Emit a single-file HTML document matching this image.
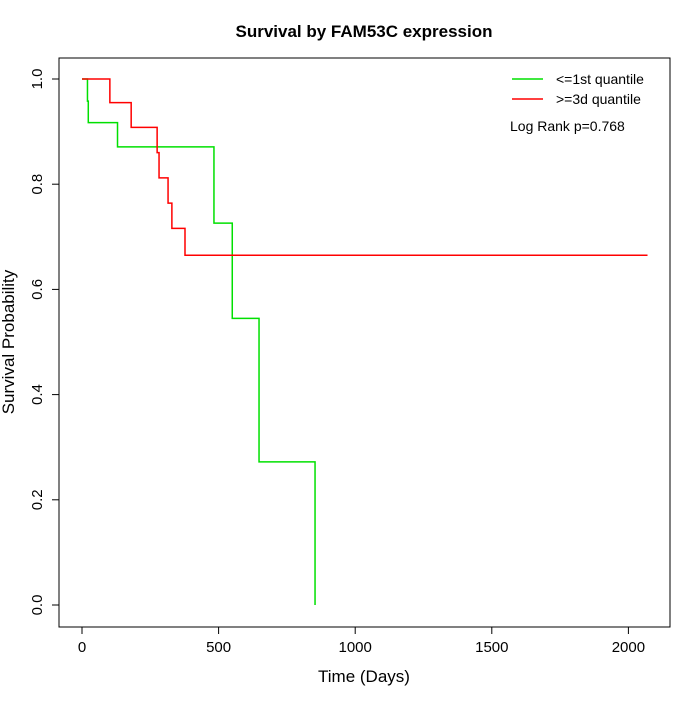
<!DOCTYPE html>
<html><head><meta charset="utf-8"><style>
body{margin:0;background:#fff}
svg text{font-family:"Liberation Sans",sans-serif;}
</style></head><body>
<svg id="chart" width="700" height="700" xmlns="http://www.w3.org/2000/svg">
<rect width="700" height="700" fill="#fff"/>
<text x="364" y="37" text-anchor="middle" font-size="17" font-weight="bold">Survival by FAM53C expression</text>
<rect x="59" y="58" width="611" height="569" fill="none" stroke="#000"/>
<g id="xaxis"></g>
<g id="yaxis"></g>
<text x="364" y="682" text-anchor="middle" font-size="17">Time (Days)</text>
<text transform="translate(14,342) rotate(-90)" text-anchor="middle" font-size="17">Survival Probability</text>
<g id="series"></g>
<g>
<line x1="512" y1="79" x2="543" y2="79" stroke="#00e000" stroke-width="1.5"/>
<text x="556" y="84" font-size="14">&lt;=1st quantile</text>
<line x1="512" y1="99" x2="543" y2="99" stroke="#f00" stroke-width="1.5"/>
<text x="556" y="104" font-size="14">&gt;=3d quantile</text>
<text x="510" y="131" font-size="14">Log Rank p=0.768</text>
</g>
</svg>
<script>
const xTicks=[0,500,1000,1500,2000];
const yTicks=[0,0.2,0.4,0.6,0.8,1.0];
const lowTimes=[0,20,23,130,483,550,648,853];
const lowSurv=[1.0,0.958,0.917,0.871,0.726,0.545,0.272,0];
const highTimes=[0,102,180,275,282,315,329,377,2070];
const highSurv=[1.0,0.955,0.908,0.86,0.812,0.764,0.716,0.665,0.665];
const X=t=>82+t*0.2732;
const Y=s=>605-s*526;
const NS="http://www.w3.org/2000/svg";
function mk(tag,attrs,parent){const e=document.createElementNS(NS,tag);for(const k in attrs)e.setAttribute(k,attrs[k]);parent.appendChild(e);return e;}
const xa=document.getElementById('xaxis'),ya=document.getElementById('yaxis');
mk('line',{x1:X(0),x2:X(2000),y1:627,y2:627,stroke:'#000'},xa);
xTicks.forEach(t=>{mk('line',{x1:X(t),x2:X(t),y1:627,y2:634,stroke:'#000'},xa);
const tx=mk('text',{x:X(t),y:652,'text-anchor':'middle','font-size':'15'},xa);tx.textContent=t;

});
mk('line',{x1:59,x2:59,y1:Y(0),y2:Y(1),stroke:'#000'},ya);
yTicks.forEach(v=>{mk('line',{x1:52,x2:59,y1:Y(v),y2:Y(v),stroke:'#000'},ya);
const tx=mk('text',{transform:`translate(42,${Y(v)}) rotate(-90)`,'text-anchor':'middle','font-size':'15'},ya);tx.textContent=v.toFixed(1);

});
function step(times,surv,color,name){let d=`M${X(times[0])},${Y(surv[0])}`;
for(let i=1;i<times.length;i++){d+=` H${X(times[i])} V${Y(surv[i])}`;}
const p=mk('path',{d:d,fill:'none',stroke:color,'stroke-width':1.5},document.getElementById('series'));

}
step(lowTimes,lowSurv,'#00e000','low-expression-curve');
step(highTimes,highSurv,'#f00','high-expression-curve');
</script>
</body></html>
